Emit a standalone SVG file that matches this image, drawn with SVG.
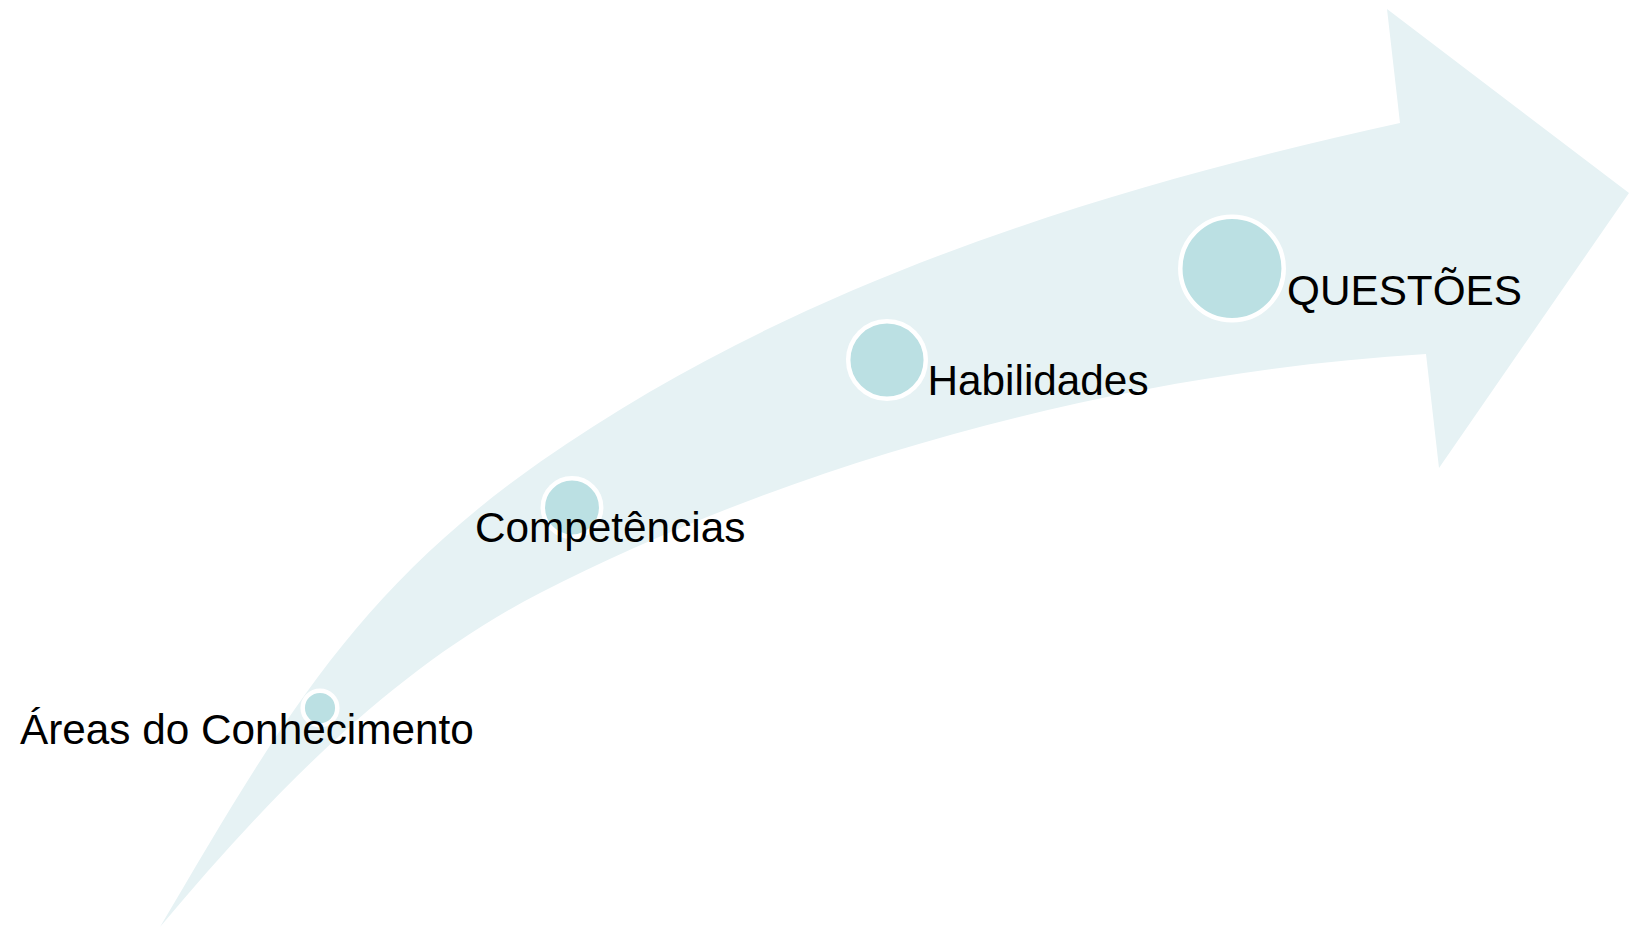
<svg xmlns="http://www.w3.org/2000/svg" width="1632" height="929" viewBox="0 0 1632 929">
<style>
.dot{fill:#BBE0E3;stroke:#FFFFFF;stroke-width:4.5}
.lbl{font-family:"Liberation Sans",Arial,sans-serif;font-size:42.3px;fill:#000000}
</style>
<rect width="1632" height="929" fill="#FFFFFF"/>
<g id="connectors">
<path id="arrow" d="M160,927 C269,797 391,669.5 540,593 C803,458 1127,372 1426,354 L1439,468 L1629,193 L1387,9 L1400,123 C1097,190 794,284 540,462 C352,594 277,729 160,927 Z" fill="#E6F2F4"/>
</g>
<g id="node-areas">
<circle class="dot" cx="320" cy="708" r="17.3"/>
<text class="lbl" x="20" y="744">Áreas do Conhecimento</text>
</g>
<g id="node-competencias">
<circle class="dot" cx="572" cy="507.5" r="29.2"/>
<text class="lbl" x="475" y="542">Competências</text>
</g>
<g id="node-habilidades">
<circle class="dot" cx="887" cy="360" r="38.8"/>
<text class="lbl" x="927.5" y="395">Habilidades</text>
</g>
<g id="node-questoes">
<circle class="dot" cx="1232" cy="268.5" r="51.7"/>
<text class="lbl" x="1287" y="305">QUESTÕES</text>
</g>
</svg>
